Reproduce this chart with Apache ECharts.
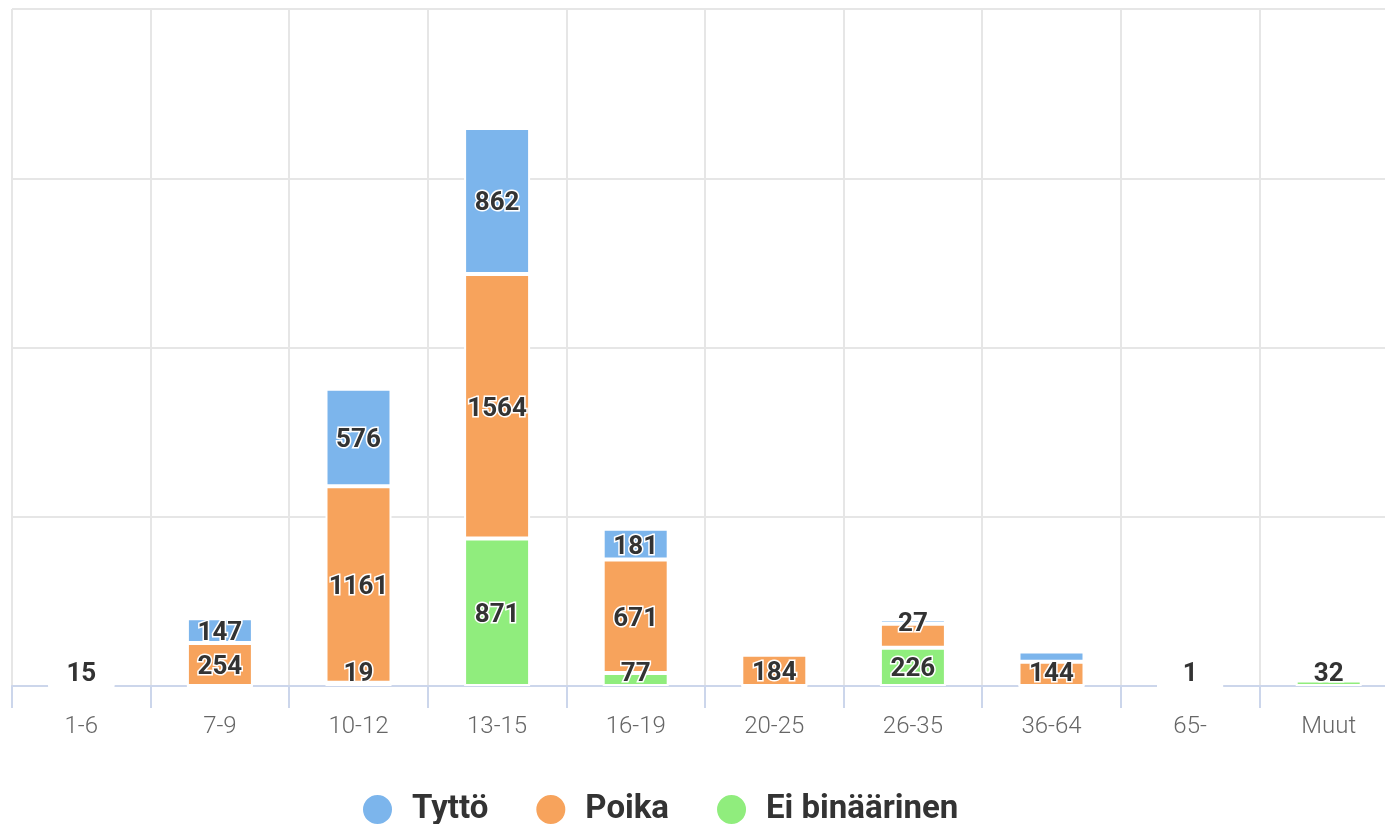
<!DOCTYPE html>
<html>
<head>
<meta charset="utf-8">
<script src="https://cdn.jsdelivr.net/npm/echarts@6/dist/echarts.min.js"></script>
<style>
html,body{margin:0;padding:0;background:#fff;overflow:hidden;}
#chart{width:1400px;height:824px;}
</style>
</head>
<body>
<div id="chart"></div>
<script>
const categories = ['1-6', '7-9', '10-12', '13-15', '16-19', '20-25', '26-35', '36-64', '65-', 'Muut'];
const tytto = [15, 147, 576, 862, 181, 25, 27, 60, 1, 0];
const poika = [0, 254, 1161, 1564, 671, 184, 142, 144, 0, 0];
const eiBinaarinen = [0, 0, 19, 871, 77, 0, 226, 0, 0, 32];
const legendOrder = ['Tyttö', 'Poika', 'Ei binäärinen'];
const yTicks = [0, 1000, 2000, 3000, 4000];
// labels hidden in the original because they overlap a neighbour
const hiddenLabels = [['Tyttö', '20-25'], ['Poika', '26-35'], ['Tyttö', '36-64']];

const BASE_Y = 824 - 138;

function isHidden(series, cat) {
  return hiddenLabels.some(h => h[0] === series && h[1] === cat);
}

const chart = echarts.init(document.getElementById('chart'), null, {renderer: 'canvas'});

function makeSeries(name, values, color) {
  return {
    name: name,
    type: 'bar',
    stack: 'total',
    barWidth: 66,
    data: values,
    itemStyle: {color: color, borderColor: '#ffffff', borderWidth: 2},
    label: {
      show: true,
      position: 'inside',
      fontFamily: 'Roboto',
      fontWeight: 'bold',
      fontSize: 26,
      color: '#333333',
      textBorderColor: '#ffffff',
      textBorderWidth: 3,
      formatter: function (p) {
        if (!p.value) return '';
        if (isHidden(p.seriesName, p.name)) return '';
        return String(p.value);
      }
    },
    labelLayout: function (params) {
      const r = params.rect;
      const cy = r.y + r.height / 2;
      return {
        x: r.x + r.width / 2,
        y: Math.min(cy, BASE_Y - 15) + 3,
        align: 'center',
        verticalAlign: 'middle'
      };
    }
  };
}

const option = {
  animation: false,
  backgroundColor: '#ffffff',
  grid: {left: 12, top: 9, width: 1386, bottom: 138, containLabel: false},
  legend: {
    data: legendOrder,
    top: 788,
    left: 356,
    icon: 'circle',
    itemWidth: 31,
    itemHeight: 31,
    itemGap: 46,
    textStyle: {fontFamily: 'Roboto', fontWeight: 'bold', fontSize: 33, color: '#333333', padding: [0, 0, 0, 14]}
  },
  xAxis: {
    type: 'category',
    data: categories,
    axisLine: {show: true, lineStyle: {color: '#ccd6eb', width: 2}},
    axisTick: {show: true, length: 22, lineStyle: {color: '#ccd6eb', width: 2}},
    splitLine: {show: true, lineStyle: {color: '#e6e6e6', width: 2}},
    axisLabel: {fontFamily: 'Roboto', fontWeight: 300, fontSize: 24, color: '#666666', margin: 29}
  },
  yAxis: {
    type: 'value',
    min: yTicks[0],
    max: yTicks[yTicks.length - 1],
    interval: yTicks[1] - yTicks[0],
    axisLabel: {show: false},
    axisLine: {show: false},
    axisTick: {show: false},
    splitLine: {show: true, lineStyle: {color: '#e6e6e6', width: 2}}
  },
  series: [
    makeSeries('Ei binäärinen', eiBinaarinen, '#90ed7d'),
    makeSeries('Poika', poika, '#f7a35c'),
    makeSeries('Tyttö', tytto, '#7cb5ec')
  ]
};
chart.setOption(option);
</script>
</body>
</html>
